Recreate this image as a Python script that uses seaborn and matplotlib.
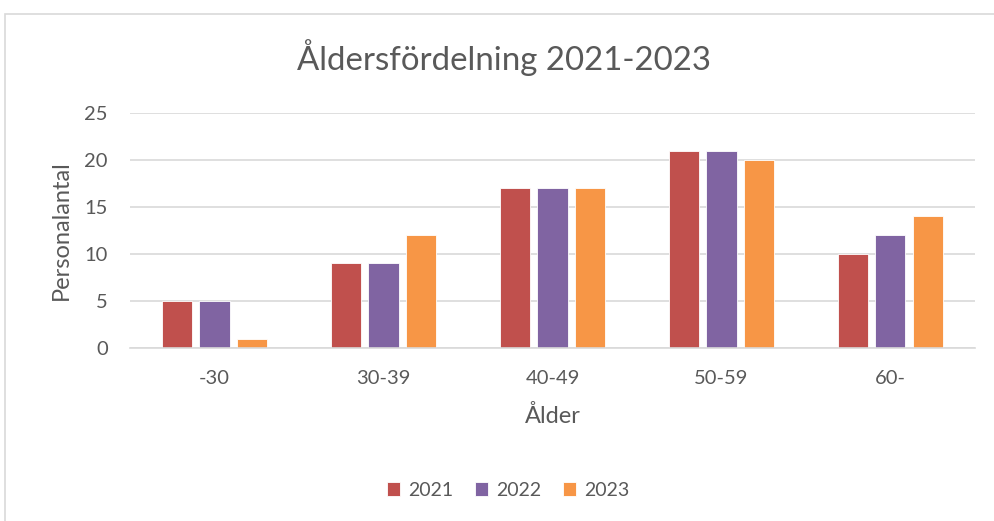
import pandas as pd
import seaborn as sns
import matplotlib.pyplot as plt
from matplotlib.patches import Rectangle

# data
age_groups = ['-30', '30-39', '40-49', '50-59', '60-']
years = ['2021', '2022', '2023']
count_2021 = [5, 9, 17, 21, 10]
count_2022 = [5, 9, 17, 21, 12]
count_2023 = [1, 12, 17, 20, 14]
year_colors = ['#C0504D', '#8064A2', '#F79646']

TEXT = '#595959'
GRID = '#D9D9D9'

rows = []
for year, counts in zip(years, [count_2021, count_2022, count_2023]):
    for group, n in zip(age_groups, counts):
        rows.append({'Ålder': group, 'År': year, 'Personalantal': n})
df = pd.DataFrame(rows)

sns.set_style('white')
plt.rcParams['font.family'] = ['Lato', 'DejaVu Sans']

fig = plt.figure(figsize=(9.94, 5.21), dpi=100)
ax = fig.add_axes([0.1308, 0.332, 0.850, 0.451])

sns.barplot(data=df, x='Ålder', y='Personalantal', hue='År',
            order=age_groups, hue_order=years, palette=year_colors, saturation=1,
            width=0.66, gap=0.19, edgecolor='white', linewidth=0.6, ax=ax)

ax.set_ylim(0, 25)
ax.set_yticks(range(0, 26, 5))
ax.yaxis.grid(True, color=GRID, linewidth=1.2)
ax.set_axisbelow(True)
for side in ['top', 'right', 'left']:
    ax.spines[side].set_visible(False)
ax.spines['bottom'].set_color(GRID)
ax.spines['bottom'].set_linewidth(1.2)
ax.tick_params(axis='both', length=0, labelsize=14.5, colors=TEXT)
ax.tick_params(axis='y', pad=16)
ax.tick_params(axis='x', pad=16)

ax.set_xlabel('Ålder', fontsize=17, color=TEXT, labelpad=13)
ax.set_ylabel('Personalantal', fontsize=17, color=TEXT, labelpad=9)

fig.text(0.5075, 1 - 58 / 521, 'Åldersfördelning 2021-2023', ha='center', va='center',
         fontsize=23.8, color=TEXT)

handles, labels = ax.get_legend_handles_labels()
ax.legend_.remove()
fig.legend(handles, labels, loc='center', bbox_to_anchor=(0.511, 1 - 490 / 521), ncol=3,
           frameon=False, fontsize=14, labelcolor=TEXT, handlelength=0.7, handleheight=0.7,
           handletextpad=0.4, columnspacing=1.1)

# chart area border
fig.patches.append(Rectangle((5 / 994, -0.1), 1.2, 1 - 14 / 521 + 0.1, transform=fig.transFigure,
                             fill=False, edgecolor=GRID, linewidth=1.2))

fig.savefig('out.png', dpi=100, facecolor='white')
